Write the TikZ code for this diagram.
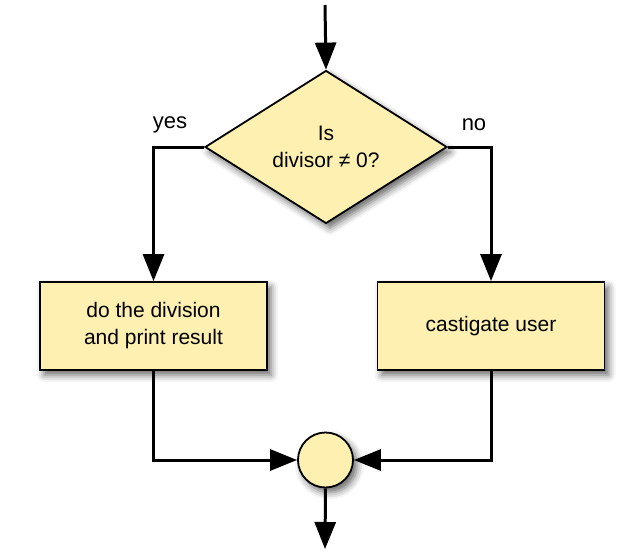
\documentclass[tikz,border=0pt]{standalone}
\usepackage{fontspec}
\setmainfont{Liberation Sans}
\usetikzlibrary{shapes.geometric,arrows.meta,shadows.blur}
\definecolor{paleyellow}{RGB}{253,240,176}
\tikzset{
  boxshadow/.style={blur shadow={shadow xshift=4pt,shadow yshift=-5pt,shadow blur radius=7pt,shadow opacity=60}},
  decision/.style={diamond,draw=black,line width=1.8pt,fill=paleyellow,
    minimum width=242pt,minimum height=153pt,inner sep=0pt,aspect=1.58,
    align=center,font=\fontsize{21}{27}\selectfont,boxshadow},
  process/.style={rectangle,draw=black,line width=1.8pt,fill=paleyellow,
    minimum width=227pt,minimum height=88pt,inner sep=0pt,
    align=center,font=\fontsize{21}{27}\selectfont,boxshadow},
  junction/.style={circle,draw=black,line width=1.8pt,fill=paleyellow,
    minimum size=55pt,inner sep=0pt,boxshadow},
  flow/.style={line width=3pt,-{Triangle[length=27pt,width=21pt]}},
  tag/.style={font=\fontsize{22}{26}\selectfont}
}
\begin{document}
\begin{tikzpicture}[x=1pt,y=-1pt]
  \useasboundingbox (0,0) rectangle (641,560);
  % entry and exit points
  \coordinate (entry) at (325,5);
  \coordinate (exit) at (325,549);
  % nodes
  \node[decision] (test) at (326,147) {Is\\divisor ≠ 0?};
  \node[process] (divide) at (153.5,326) {do the division\\and print result};
  \node[process] (scold) at (491,326) {castigate user};
  \node[junction] (join) at (325.5,460) {};
  % branch labels
  \node[tag] (yes) at (170,125) {yes};
  \node[tag] (no) at (474,125) {no};
  % connectors
  \draw[flow] (entry) -- (test.north);
  \draw[flow,line join=miter] (test.west) -| (divide.north);
  \draw[flow,line join=miter] (test.east) -| (scold.north);
  \draw[flow,line join=miter] (divide.south) |- (join.west);
  \draw[flow,line join=miter] (scold.south) |- (join.east);
  \draw[flow] (join.south) -- (exit);
\end{tikzpicture}
\end{document}
